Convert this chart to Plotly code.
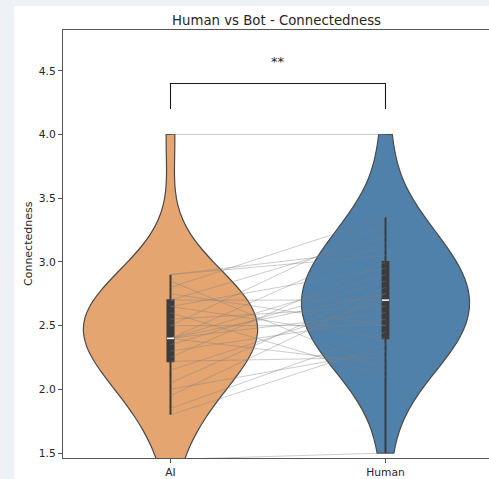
import numpy as np
import plotly.graph_objects as go

# Paired connectedness ratings (same participant in both conditions)
groups = ["AI", "Human"]
ai_scores = [1.45, 1.8, 1.85, 1.95, 2.0, 2.05, 2.15, 2.22, 2.25, 2.3,
             2.35, 2.4, 2.4, 2.4, 2.4, 2.4, 2.5, 2.5, 2.55, 2.6,
             2.65, 2.65, 2.7, 2.7, 2.75, 2.8, 2.85, 2.9, 2.9, 4.0]
human_scores = [1.5, 2.35, 2.45, 2.75, 2.3, 2.8, 2.7, 2.25, 3.0, 2.55,
                2.85, 2.2, 2.75, 3.15, 2.6, 2.9, 2.5, 3.3, 2.65, 2.1,
                2.95, 2.4, 2.7, 3.2, 2.5, 3.35, 2.15, 3.1, 3.05, 4.0]
y_ticks = [1.5, 2.0, 2.5, 3.0, 3.5, 4.0, 4.5]
bracket_y = [4.2, 4.4, 4.4, 4.2]
sig_label = "**"
sig_y = 4.57
title_text = "Human vs Bot - Connectedness"
y_label = "Connectedness"

fill_colors = {"AI": "#E4A570", "Human": "#5081AA"}
violin_widths = {"AI": 0.81, "Human": 0.78}
edge_color = "#4a4a4a"
box_color = "#3c3c3c"
text_color = "#262626"
font_family = "DejaVu Sans"
bw_adjust = 1.45


def scott_bandwidth(values, adjust=1.0):
    v = np.asarray(values, dtype=float)
    return adjust * v.std(ddof=1) * len(v) ** (-1 / 5)


fig = go.Figure()

series = {"AI": ai_scores, "Human": human_scores}
for g in groups:
    vals = series[g]
    fig.add_trace(go.Violin(
        x=[g] * len(vals), y=vals, name=g,
        fillcolor=fill_colors[g], opacity=1,
        line=dict(color=edge_color, width=1.2),
        spanmode="hard", bandwidth=scott_bandwidth(vals, bw_adjust),
        scalemode="width", width=violin_widths[g],
        points="outliers", marker=dict(opacity=0, size=1),
        box=dict(visible=True, width=0.035, fillcolor=box_color,
                 line=dict(color=box_color, width=2)),
        meanline=dict(visible=False),
        hoverinfo="skip", showlegend=False,
    ))

# Connecting lines between each participant's two ratings
xs, ys = [], []
for a, h in zip(ai_scores, human_scores):
    xs += ["AI", "Human", None]
    ys += [a, h, None]
fig.add_trace(go.Scatter(
    x=xs, y=ys, mode="lines",
    line=dict(color="rgba(128,128,128,0.4)", width=1),
    hoverinfo="skip", showlegend=False,
))

# Median markers
fig.add_trace(go.Scatter(
    x=groups, y=[float(np.median(ai_scores)), float(np.median(human_scores))],
    mode="markers",
    marker=dict(symbol="line-ew", size=5, line=dict(color="#f2f2f2", width=1.6)),
    hoverinfo="skip", showlegend=False,
))

# Significance bracket
fig.add_trace(go.Scatter(
    x=["AI", "AI", "Human", "Human"], y=bracket_y, mode="lines",
    line=dict(color="#1a1a1a", width=1.1),
    hoverinfo="skip", showlegend=False,
))

fig.update_layout(
    width=489, height=479,
    margin=dict(l=63, r=0, t=30, b=19),
    paper_bgcolor="#eef2f7", plot_bgcolor="white",
    violinmode="overlay",
    font=dict(family=font_family, color=text_color),
    shapes=[dict(type="rect", xref="paper", yref="paper",
                 x0=-49 / 426, x1=1.05, y0=-0.2, y1=1 + 24 / 430,
                 fillcolor="white", line=dict(width=0), layer="below")],
    annotations=[
        dict(text=title_text, xref="paper", yref="paper", x=0.5,
             y=1 + 10 / 430, xanchor="center", yanchor="middle",
             showarrow=False, font=dict(size=13.3, color=text_color)),
        dict(text=y_label, xref="paper", yref="paper", x=-35 / 426,
             y=0.5, xanchor="center", yanchor="middle", textangle=-90,
             showarrow=False, font=dict(size=11, color=text_color)),
        dict(text=sig_label, xref="x", yref="y", x=0.5, y=sig_y,
             xanchor="center", yanchor="middle", showarrow=False,
             font=dict(size=13, color=text_color)),
    ],
)

fig.update_xaxes(
    type="category", categoryorder="array", categoryarray=groups,
    range=[-0.5, 1.5 - 4 / 215],
    showline=True, mirror=True, linecolor="#555555", linewidth=1.2,
    ticks="outside", ticklen=4, tickcolor="#555555",
    tickfont=dict(size=10.7, color=text_color),
    showgrid=False, zeroline=False,
)
fig.update_yaxes(
    range=[1.461, 4.82],
    tickvals=y_ticks, ticktext=[f"{t:.1f}" for t in y_ticks],
    showline=True, linecolor="#555555", linewidth=1.2,
    ticks="outside", ticklen=4, tickcolor="#555555",
    tickfont=dict(size=10.7, color=text_color),
    showgrid=False, zeroline=False,
)

fig.write_html("out.html")
